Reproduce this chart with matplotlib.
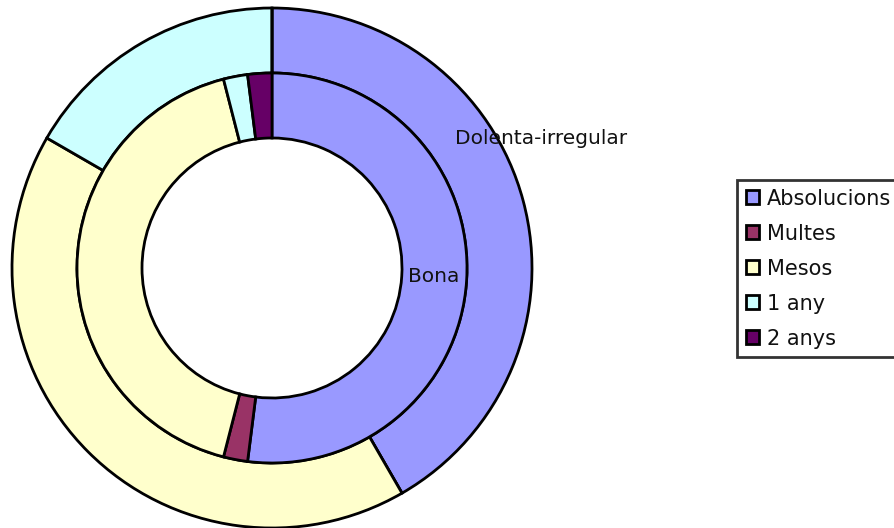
import matplotlib.pyplot as plt
from matplotlib.patches import Patch

# --- dades ---
categories = ['Absolucions', 'Multes', 'Mesos', '1 any', '2 anys']
colors = ['#9999FF', '#993366', '#FFFFCC', '#CCFFFF', '#660066']
dolenta = [5, 0, 5, 2, 0]      # anell exterior
bona = [26, 1, 21, 1, 1]       # anell interior

plt.rcParams['font.family'] = ['DejaVu Sans']

fig = plt.figure(figsize=(8.94, 5.28), dpi=100)
ax = fig.add_axes([0, 0, 1, 1])

center = (272, 260)
edge = dict(edgecolor='black', linewidth=2)

# anell exterior: Dolenta-irregular
ax.pie(dolenta, colors=colors, radius=260, center=center, startangle=90,
       counterclock=False, wedgeprops=dict(width=65, **edge), frame=True)
# anell interior: Bona
ax.pie(bona, colors=colors, radius=195, center=center, startangle=90,
       counterclock=False, wedgeprops=dict(width=65, **edge), frame=True)
ax.set_xlim(0, 894)
ax.set_ylim(0, 528)
ax.set_aspect('equal')
ax.axis('off')

ax.text(455, 528 - 139, 'Dolenta-irregular', ha='left', va='center',
        fontsize=14.5, color='#111111')
ax.text(408, 528 - 277, 'Bona', ha='left', va='center',
        fontsize=14.5, color='#111111')

handles = [Patch(facecolor=c, edgecolor='black', linewidth=2) for c in colors]
leg = fig.legend(handles, categories, loc='upper left',
                 bbox_to_anchor=(737 / 894, 1 - 180 / 528),
                 frameon=True, fancybox=False, fontsize=15,
                 handlelength=0.65, handleheight=0.65, handletextpad=0.35,
                 labelspacing=0.72, borderpad=0.42, borderaxespad=0)
leg.get_frame().set_edgecolor('black')
leg.get_frame().set_linewidth(2)
for t in leg.get_texts():
    t.set_color('#111111')

fig.savefig('out.png', dpi=100)
